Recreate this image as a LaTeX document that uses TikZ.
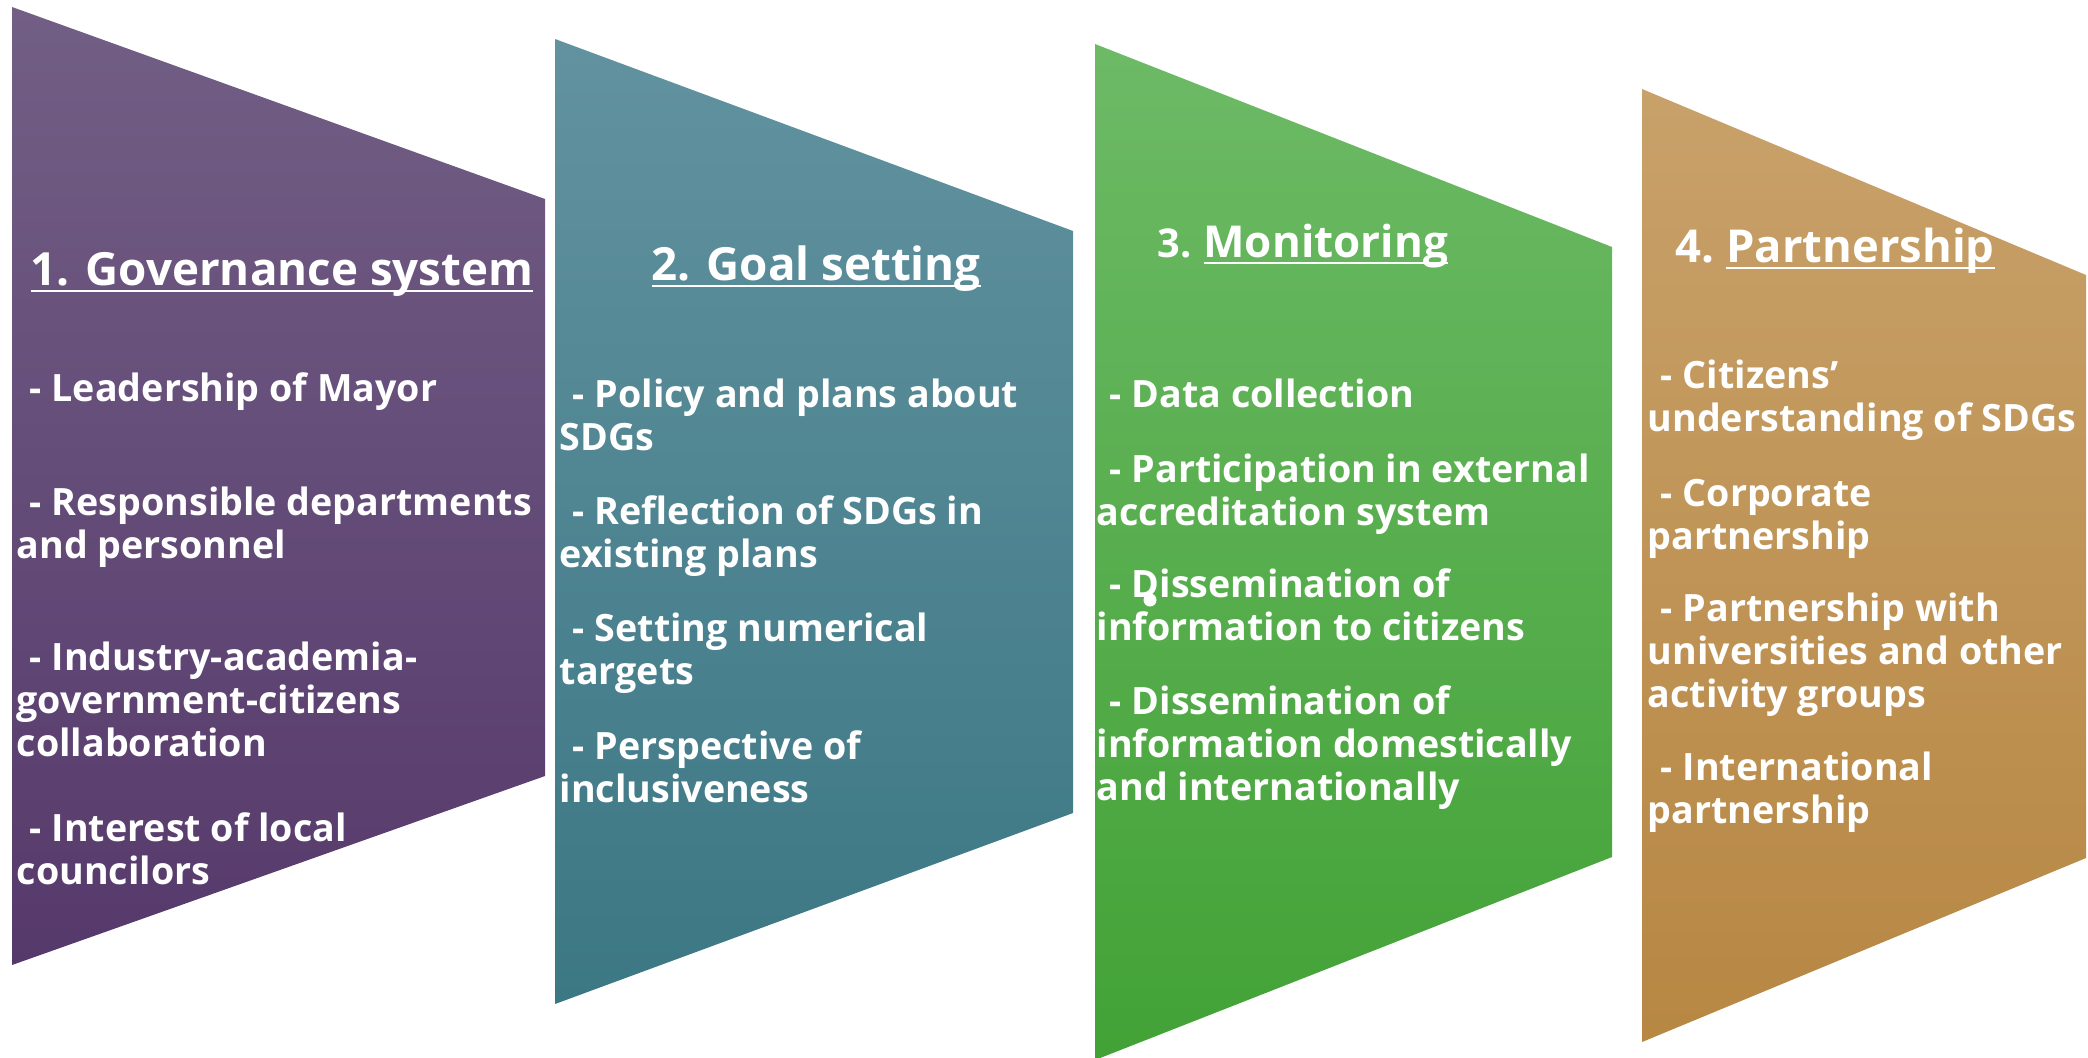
\documentclass[tikz,border=0pt]{standalone}
\usepackage{fontspec}
\setmainfont{Open Sans}
\usepackage{tikz}
\usetikzlibrary{positioning}
\usepackage{xcolor}

\definecolor{govtop}{HTML}{725F85}
\definecolor{govbot}{HTML}{56396B}
\definecolor{goaltop}{HTML}{62929F}
\definecolor{goalbot}{HTML}{3C7784}
\definecolor{montop}{HTML}{6DBA66}
\definecolor{monbot}{HTML}{42A236}
\definecolor{partop}{HTML}{C8A16A}
\definecolor{parbot}{HTML}{B78743}

\newsavebox\ulbox
\newcommand\ulword[1]{\sbox\ulbox{#1}\rlap{\rule[-2pt]{\wd\ulbox}{0.7pt}}\usebox\ulbox}
\newcommand\lead{\hspace*{0.35em}}

\begin{document}
\begin{tikzpicture}[
		x=0.01cm, y=-0.01cm,
		item/.style={anchor=base west, align=left, inner sep=0pt, text=white,
			font=\fontsize{10.7}{12.1}\selectfont\bfseries},
		heading/.style={anchor=base west, inner sep=0pt, text=white,
			font=\fontsize{13}{16}\selectfont\bfseries},
		subheading/.style={heading, font=\fontsize{12.9}{15}\selectfont\bfseries}
		]
		\useasboundingbox (0,0) rectangle (2088,1057);
		
		% Les bandes
		\shade[top color=govtop, bottom color=govbot] (12,7) -- (545,199) -- (545,776) -- (12,965) -- cycle;
		\shade[top color=goaltop, bottom color=goalbot] (555,39) -- (1073,231) -- (1073,813) -- (555,1004) -- cycle;
		\shade[top color=montop, bottom color=monbot] (1095,44) -- (1612,247) -- (1612,857) -- (1095,1060) -- cycle;
		\shade[top color=partop, bottom color=parbot] (1642,89) -- (2086,275) -- (2086,858) -- (1642,1042) -- cycle;
		\fill[white] (1150,600) circle (6.5);
		
		% Les titres (ancre = ligne de base)
		\node[heading] (gov) at (30,285) {\ulword{1. Governance system}};
		\node[heading] (goal) at (651,280) {\ulword{2. Goal setting}};
		\node[subheading] (mon) at (1157,257) {{\fontsize{11.3}{14}\selectfont 3.}~{\fontsize{12.5}{15}\selectfont\ulword{Monitoring}}};
		\node[subheading] (par) at (1675,262) {4.~\ulword{Partnership}};
		
		% 1. Governance system (ancre = derniere ligne)
		\node[item] (gov1) at (16,401) {\lead- Leadership of Mayor};
		\node[item] (gov2) at (16,558) {\lead- Responsible departments\\and personnel};
		\node[item] (gov3) at (16,756) {\lead- Industry-academia-\\government-citizens\\collaboration};
		\node[item] (gov4) at (16,884) {\lead- Interest of local\\councilors};
		
		% 2. Goal setting
		\node[item] (goal1) at (559,450) {\lead- Policy and plans about\\SDGs};
		\node[item] (goal2) at (559,567) {\lead- Reflection of SDGs in\\existing plans};
		\node[item] (goal3) at (559,684) {\lead- Setting numerical\\targets};
		\node[item] (goal4) at (559,802) {\lead- Perspective of\\inclusiveness};
		
		% 3. Monitoring
		\node[item] (mon1) at (1096,407) {\lead- Data collection};
		\node[item] (mon2) at (1096,525) {\lead- Participation in external\\accreditation system};
		\node[item] (mon3) at (1096,640) {\lead- Dissemination of\\information to citizens};
		\node[item] (mon4) at (1096,800) {\lead- Dissemination of\\information domestically\\and internationally};
		
		% 4. Partnership
		\node[item] (par1) at (1647,431) {\lead- Citizens’\\understanding of SDGs};
		\node[item] (par2) at (1647,549) {\lead- Corporate\\partnership};
		\node[item] (par3) at (1647,707) {\lead- Partnership with\\universities and other\\activity groups};
		\node[item] (par4) at (1647,823) {\lead- International\\partnership};
	\end{tikzpicture}
\end{document}
